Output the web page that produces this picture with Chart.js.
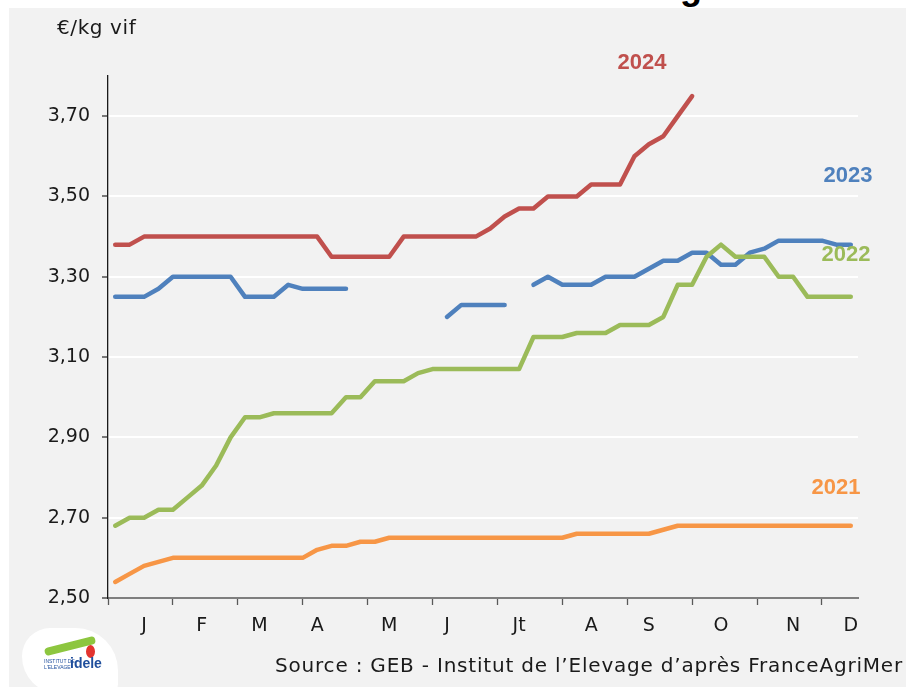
<!DOCTYPE html>
<html lang="fr">
<head>
<meta charset="utf-8">
<title>Prix €/kg vif</title>
<script src="https://cdn.jsdelivr.net/npm/chart.js@4/dist/chart.umd.min.js"></script>
<style>
  html, body { margin: 0; padding: 0; background: #fff; }
  body { width: 906px; height: 687px; position: relative; overflow: hidden; font-family: "DejaVu Sans", sans-serif; }
  #panel { position: absolute; left: 9px; top: 8px; right: 0; bottom: 0; background: #f2f2f2; }
  #chartBox { position: absolute; left: 0; top: 0; width: 906px; height: 687px; }
  .txt { position: absolute; transform: translate(-50%, -50%); white-space: nowrap; }
  .year { font-family: "Liberation Sans", Arial, sans-serif; font-weight: bold; font-size: 22px; }
  #unit { position: absolute; left: 57px; top: 15px; font-size: 20px; color: #1a1a1a; letter-spacing: 0.6px; }
  #source { position: absolute; left: 275px; top: 653px; font-size: 20px; color: #1a1a1a; letter-spacing: 0.8px; white-space: nowrap; }
  #titleCut { position: absolute; left: 680px; top: -34px; font-family: "Liberation Sans", Arial, sans-serif; font-weight: bold; font-size: 36px; color: #000; }
  #logo { position: absolute; left: 22px; top: 628px; width: 96px; height: 66px; background: #fff; border-radius: 30px 45px 10px 40px; }
  #logo .swoosh { position: absolute; left: 22px; top: 14px; width: 52px; height: 8px; border-radius: 8px; background: #8dc63f; transform: rotate(-14deg); }
  #logo .drop { position: absolute; left: 64px; top: 17px; width: 9px; height: 13px; border-radius: 50%; background: #e3342f; }
  #logo .name { position: absolute; left: 22px; top: 30px; font-family: "Liberation Sans", Arial, sans-serif; font-size: 5px; color: #1f4e9c; line-height: 6px; }
  #logo .idele { position: absolute; left: 48px; top: 27px; font-family: "Liberation Sans", Arial, sans-serif; font-weight: bold; font-size: 14px; color: #1f4e9c; }
</style>
</head>
<body>
<div id="panel"></div>
<div id="titleCut">g</div>
<div id="chartBox"><canvas id="chart" width="906" height="687"></canvas></div>
<div id="unit">€/kg vif</div>
<div class="txt year" style="left:642px; top:62px; color:#c0504d;">2024</div>
<div class="txt year" style="left:848px; top:175px; color:#4f81bd;">2023</div>
<div class="txt year" style="left:846px; top:254px; color:#9bbb59;">2022</div>
<div class="txt year" style="left:836px; top:487px; color:#f79646;">2021</div>
<div id="logo"><div class="swoosh"></div><div class="drop"></div><div class="name">INSTITUT DE<br>L'ELEVAGE</div><div class="idele">idele</div></div>
<div id="source">Source : GEB - Institut de l’Elevage d’après FranceAgriMer</div>

<script>
// ==============================
// Data (weekly prices, €/kg vif)
// ==============================
const weeks = Array.from({ length: 52 }, (_, i) => i + 1);

const prix2021 = [
  2.54, 2.56, 2.58, 2.59, 2.60, 2.60, 2.60, 2.60, 2.60, 2.60,
  2.60, 2.60, 2.60, 2.60, 2.62, 2.63, 2.63, 2.64, 2.64, 2.65,
  2.65, 2.65, 2.65, 2.65, 2.65, 2.65, 2.65, 2.65, 2.65, 2.65,
  2.65, 2.65, 2.66, 2.66, 2.66, 2.66, 2.66, 2.66, 2.67, 2.68,
  2.68, 2.68, 2.68, 2.68, 2.68, 2.68, 2.68, 2.68, 2.68, 2.68,
  2.68, 2.68
];

const prix2022 = [
  2.68, 2.70, 2.70, 2.72, 2.72, 2.75, 2.78, 2.83, 2.90, 2.95,
  2.95, 2.96, 2.96, 2.96, 2.96, 2.96, 3.00, 3.00, 3.04, 3.04,
  3.04, 3.06, 3.07, 3.07, 3.07, 3.07, 3.07, 3.07, 3.07, 3.15,
  3.15, 3.15, 3.16, 3.16, 3.16, 3.18, 3.18, 3.18, 3.20, 3.28,
  3.28, 3.35, 3.38, 3.35, 3.35, 3.35, 3.30, 3.30, 3.25, 3.25,
  3.25, 3.25
];

const prix2023 = [
  3.25, 3.25, 3.25, 3.27, 3.30, 3.30, 3.30, 3.30, 3.30, 3.25,
  3.25, 3.25, 3.28, 3.27, 3.27, 3.27, 3.27, null, null, null,
  null, null, null, 3.20, 3.23, 3.23, 3.23, 3.23, null, 3.28,
  3.30, 3.28, 3.28, 3.28, 3.30, 3.30, 3.30, 3.32, 3.34, 3.34,
  3.36, 3.36, 3.33, 3.33, 3.36, 3.37, 3.39, 3.39, 3.39, 3.39,
  3.38, 3.38
];

const prix2024 = [
  3.38, 3.38, 3.40, 3.40, 3.40, 3.40, 3.40, 3.40, 3.40, 3.40,
  3.40, 3.40, 3.40, 3.40, 3.40, 3.35, 3.35, 3.35, 3.35, 3.35,
  3.40, 3.40, 3.40, 3.40, 3.40, 3.40, 3.42, 3.45, 3.47, 3.47,
  3.50, 3.50, 3.50, 3.53, 3.53, 3.53, 3.60, 3.63, 3.65, 3.70,
  3.75
];

// y ticks and x axis: month letters + tick marks (in week units)
const yTicks = [2.5, 2.7, 2.9, 3.1, 3.3, 3.5, 3.7];
const monthLabels = ["J", "F", "M", "A", "M", "J", "Jt", "A", "S", "O", "N", "D"];
const monthWeeks = [3, 7, 11, 15, 20, 24, 29, 34, 38, 43, 48, 52];
const tickWeeks = [0.5, 5, 9.5, 14, 18.5, 23, 27.5, 32, 36.5, 41, 45.5, 50];

const textFont = "'DejaVu Sans', sans-serif";

// ==============================
// Helpers
// ==============================
function makeLine(data, color) {
  return {
    data: data,
    borderColor: color,
    backgroundColor: color,
    borderWidth: 4.5,
    pointRadius: 0,
    tension: 0,
    fill: false,
    spanGaps: false,
    borderCapStyle: "round",
    borderJoinStyle: "round",
  };
}

function isMonth(value) {
  return monthWeeks.indexOf(value) !== -1;
}

// ==============================
// Chart
// ==============================
const ctx = document.getElementById("chart").getContext("2d");

new Chart(ctx, {
  type: "line",
  data: {
    labels: weeks,
    datasets: [
      makeLine(prix2024, "#c0504d"),
      makeLine(prix2022, "#9bbb59"),
      makeLine(prix2023, "#4f81bd"),
      makeLine(prix2021, "#f79646"),
    ],
  },
  options: {
    responsive: false,
    animation: false,
    layout: { padding: { left: 0, right: 48, top: 76, bottom: 0 } },
    plugins: { legend: { display: false }, tooltip: { enabled: false } },
    scales: {
      x: {
        type: "linear",
        min: 0.5,
        max: 52.5,
        afterBuildTicks: (scale) => {
          const all = tickWeeks.concat(monthWeeks).sort((a, b) => a - b);
          scale.ticks = all.map((v) => ({ value: v }));
        },
        afterFit: (scale) => { scale.height = 89; },
        ticks: {
          autoSkip: false,
          maxRotation: 0,
          minRotation: 0,
          padding: 10,
          color: "#1a1a1a",
          font: { family: textFont, size: 19 },
          callback: (value) => isMonth(value) ? monthLabels[monthWeeks.indexOf(value)] : "",
        },
        grid: {
          drawOnChartArea: false,
          drawTicks: true,
          tickLength: 7,
          tickWidth: 1.3,
          tickColor: (c) => (c.tick && isMonth(c.tick.value)) ? "rgba(0,0,0,0)" : "#595959",
        },
        border: { display: true, color: "#7f7f7f", width: 2 },
      },
      y: {
        min: 2.5,
        max: 3.8,
        afterBuildTicks: (scale) => {
          scale.ticks = yTicks.map((v) => ({ value: v }));
        },
        afterFit: (scale) => { scale.width = 108; },
        ticks: {
          padding: 12,
          color: "#1a1a1a",
          font: { family: textFont, size: 19 },
          callback: (value) => value.toFixed(2).replace(".", ","),
        },
        grid: {
          color: (c) => (c.tick && c.tick.value > 2.5) ? "#ffffff" : "rgba(0,0,0,0)",
          lineWidth: 2,
          drawTicks: true,
          tickLength: 6,
          tickWidth: 1.3,
          tickColor: "#333333",
        },
        border: { display: true, color: "#1a1a1a", width: 1.3 },
      },
    },
  },
});
</script>
</body>
</html>
